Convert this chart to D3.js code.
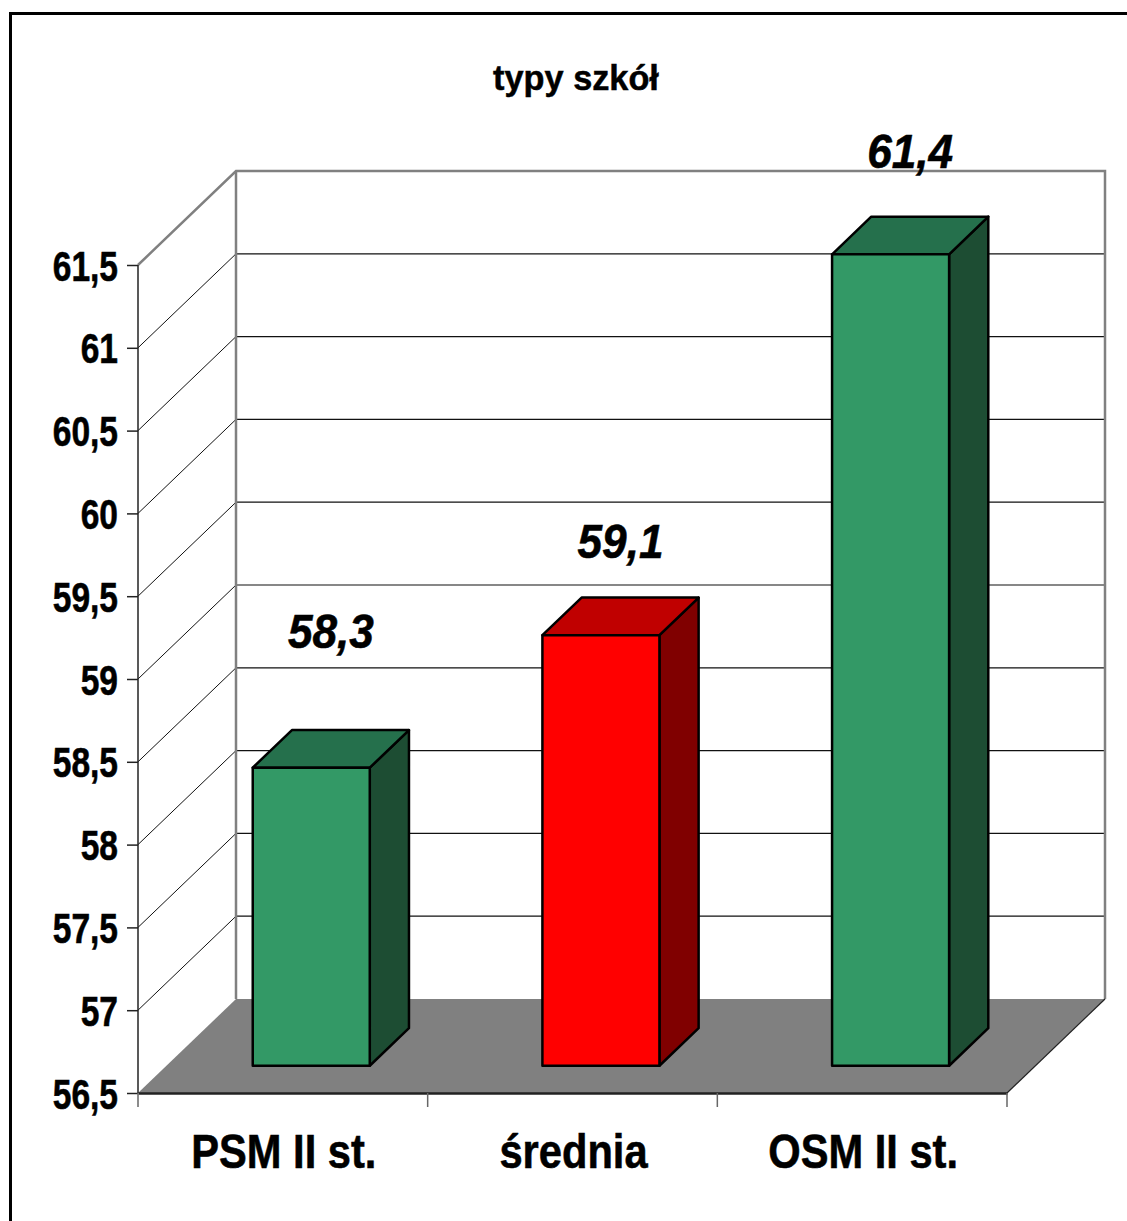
<!DOCTYPE html>
<html>
<head>
<meta charset="utf-8">
<script src="https://cdn.jsdelivr.net/npm/d3@7"></script>
<style>
  html, body { margin: 0; padding: 0; background: #fff; }
  svg { display: block; }
  text { font-family: "Liberation Sans", Arial, sans-serif; font-weight: bold; fill: #000; }
</style>
</head>
<body>
<svg id="chart" width="1127" height="1221"></svg>
<script>
// ---- data ----
const categories = ["PSM II st.", "średnia", "OSM II st."];
const values = [58.3, 59.1, 61.4];
const yTickValues = [56.5, 57, 57.5, 58, 58.5, 59, 59.5, 60, 60.5, 61, 61.5];
const chartTitle = "typy szkół";

// ---- layout ----
const W = 1127, H = 1221;
const plotLeft = 138, plotRight = 1007;
const yMinPx = 1093, yMaxPx = 265;
const depth = { dx: 98, dy: -94 };           // full depth of the 3D box
const barDepthFront = 0.29, barDepthBack = 0.69;
const barWidthFrac = 0.404;
const labelLift = [101, 58, 68];            // label offset above bar top (px)

const comma = d3.formatLocale({ decimal: ",", thousands: " ", grouping: [3], currency: ["", ""] });
const fmt = v => comma.format("~g")(v);

const svg = d3.select("#chart");

const y = d3.scaleLinear().domain([56.5, 61.5]).range([yMinPx, yMaxPx]);
const x = d3.scaleBand().domain(categories).range([plotLeft, plotRight]).padding(0);

const back = (px, py, f = 1) => [px + depth.dx * f, py + depth.dy * f];

// outer frame
svg.append("rect")
  .attr("x", 10.5).attr("y", 13.5)
  .attr("width", W + 20).attr("height", H + 20)
  .attr("fill", "none").attr("stroke", "#000").attr("stroke-width", 3);

// title
svg.append("text")
  .attr("text-anchor", "middle")
  .attr("font-size", 35)
  .attr("stroke", "#000").attr("stroke-width", 0.5)
  .attr("transform", "translate(576,90) scale(0.98,1)")
  .text(chartTitle);

const yBottom = y.domain()[0], yTop = y.domain()[1];
const [bwl, bwt] = back(plotLeft, y(yTop));
const [bwr] = back(plotRight, y(yTop));
const [, bwb] = back(plotLeft, y(yBottom));

// back wall grid lines
const gridVals = yTickValues.filter(v => v > yBottom && v < yTop);
svg.append("g").selectAll("line").data(gridVals).join("line")
  .attr("x1", bwl).attr("x2", bwr)
  .attr("y1", d => back(plotLeft, y(d))[1]).attr("y2", d => back(plotLeft, y(d))[1])
  .attr("stroke", "#111").attr("stroke-width", 1.2);

// side wall diagonal grid lines
svg.append("g").selectAll("line").data(gridVals).join("line")
  .attr("x1", plotLeft).attr("y1", d => y(d))
  .attr("x2", d => back(plotLeft, y(d))[0]).attr("y2", d => back(plotLeft, y(d))[1])
  .attr("stroke", "#111").attr("stroke-width", 1);

// back wall border (gray)
svg.append("path")
  .attr("d", `M${plotLeft},${y(yTop)} L${bwl},${bwt} L${bwr},${bwt} L${bwr},${bwb}`)
  .attr("fill", "none").attr("stroke", "#808080").attr("stroke-width", 2.5);
svg.append("line")
  .attr("x1", bwl).attr("x2", bwl).attr("y1", bwt).attr("y2", bwb)
  .attr("stroke", "#808080").attr("stroke-width", 2.5);

// floor
const f0 = [plotLeft, y(yBottom)], f1 = [plotRight, y(yBottom)];
const f2 = back(plotRight, y(yBottom)), f3 = back(plotLeft, y(yBottom));
svg.append("polygon")
  .attr("points", [f0, f1, f2, f3].map(p => p.join(",")).join(" "))
  .attr("fill", "#808080");
svg.append("line")
  .attr("x1", f1[0]).attr("y1", f1[1]).attr("x2", f2[0]).attr("y2", f2[1])
  .attr("stroke", "#222").attr("stroke-width", 1.2);

// y axis (front)
svg.append("line")
  .attr("x1", plotLeft).attr("x2", plotLeft).attr("y1", y(yTop)).attr("y2", y(yBottom))
  .attr("stroke", "#222").attr("stroke-width", 1.5);
const yAxisG = svg.append("g").attr("transform", `translate(${plotLeft},0)`)
  .call(d3.axisLeft(y).tickValues(yTickValues).tickSize(11).tickSizeOuter(0).tickFormat(fmt));
yAxisG.select(".domain").remove();
yAxisG.selectAll(".tick line").attr("stroke", "#222").attr("stroke-width", 1.5);
yAxisG.selectAll(".tick text")
  .attr("x", null).attr("dy", null)
  .attr("font-size", 43)
  .attr("font-family", '"Liberation Sans", Arial, sans-serif')
  .attr("font-weight", "bold")
  .attr("fill", "#000")
  .attr("stroke", "#000").attr("stroke-width", 0.6)
  .attr("text-anchor", "end")
  .attr("transform", "translate(-20,15) scale(0.78,1)");

// x axis (front)
const xAxisG = svg.append("g").attr("transform", `translate(0,${y(yBottom)})`)
  .call(d3.axisBottom(x).tickSize(0).tickSizeOuter(0));
xAxisG.select(".domain").attr("stroke", "#222").attr("stroke-width", 2.5);
xAxisG.selectAll(".tick line").remove();
xAxisG.selectAll(".tick text")
  .attr("y", null).attr("dy", null)
  .attr("font-size", 49)
  .attr("font-family", '"Liberation Sans", Arial, sans-serif')
  .attr("font-weight", "bold")
  .attr("fill", "#000")
  .attr("stroke", "#000").attr("stroke-width", 0.6)
  .attr("text-anchor", "middle")
  .attr("transform", "translate(1,75) scale(0.85,1)");
// category boundary ticks
const boundaries = categories.map(c => x(c)).concat([plotRight]);
svg.append("g").selectAll("line").data(boundaries).join("line")
  .attr("x1", d => d).attr("x2", d => d)
  .attr("y1", y(yBottom)).attr("y2", y(yBottom) + 14)
  .attr("stroke", "#666").attr("stroke-width", 1.5);

// bars
const palette = {
  normal: { front: "#339966", top: "#25704c", side: "#1d4d33" },
  highlight: { front: "#ff0000", top: "#c00000", side: "#800000" }
};
const styleFor = c => c === "średnia" ? palette.highlight : palette.normal;

const bars = svg.append("g").selectAll("g").data(categories).join("g");
bars.each(function (c, i) {
  const g = d3.select(this);
  const st = styleFor(c);
  const bw = x.bandwidth() * barWidthFrac;
  const cx = x(c) + x.bandwidth() / 2;
  const [xl, yt] = back(cx - bw / 2, y(values[i]), barDepthFront);
  const [xr, yb] = back(cx + bw / 2, y(yBottom), barDepthFront);
  const ddx = depth.dx * (barDepthBack - barDepthFront);
  const ddy = depth.dy * (barDepthBack - barDepthFront);
  const pts = a => a.map(p => p.join(",")).join(" ");
  const common = sel => sel.attr("stroke", "#000").attr("stroke-width", 2.5).attr("stroke-linejoin", "round");
  g.append("polygon").attr("points", pts([[xr, yt], [xr + ddx, yt + ddy], [xr + ddx, yb + ddy], [xr, yb]]))
    .attr("fill", st.side).call(common);
  g.append("polygon").attr("points", pts([[xl, yt], [xr, yt], [xr + ddx, yt + ddy], [xl + ddx, yt + ddy]]))
    .attr("fill", st.top).call(common);
  g.append("rect").attr("x", xl).attr("y", yt).attr("width", xr - xl).attr("height", yb - yt)
    .attr("fill", st.front).call(common);
});

// value labels
const midDepth = (barDepthFront + barDepthBack) / 2;
svg.append("g").selectAll("text").data(categories).join("text")
  .attr("text-anchor", "middle")
  .attr("font-size", 48)
  .attr("font-style", "italic")
  .attr("stroke", "#000").attr("stroke-width", 0.6)
  .attr("transform", (c, i) => {
    const [lx, ly] = back(x(c) + x.bandwidth() / 2, y(values[i]), midDepth);
    return `translate(${lx},${ly - labelLift[i]}) scale(0.92,1)`;
  })
  .text((c, i) => fmt(values[i]));
</script>
</body>
</html>
